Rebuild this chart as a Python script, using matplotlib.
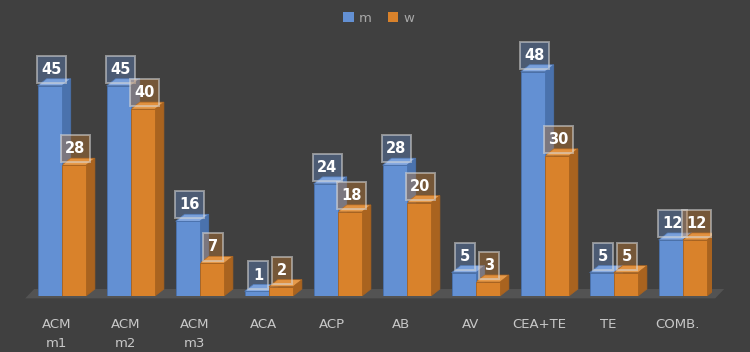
import numpy as np
import matplotlib.pyplot as plt
from matplotlib.patches import Polygon, Rectangle

categories = ['ACM\nm1', 'ACM\nm2', 'ACM\nm3', 'ACA', 'ACP', 'AB', 'AV', 'CEA+TE', 'TE', 'COMB.']
m_vals = [45, 45, 16, 1, 24, 28, 5, 48, 5, 12]
w_vals = [28, 40, 7, 2, 18, 20, 3, 30, 5, 12]

BG = '#404040'
series = [
    # name, values, front, side, top, offset
    ('m', m_vals, '#6390d3', '#4a72ad', '#86a9e0', -0.27),
    ('w', w_vals, '#d9822b', '#a9631f', '#e69a4a', 0.08),
]
width = 0.35
dx, dy = 0.13, 1.5   # fake depth
box_h = 5.8          # label box height in data units


def draw_box3d(ax, x0, h, front, side, top):
    ax.bar(x0, h, width, align='edge', color=front, edgecolor=side, linewidth=0.6, zorder=3)
    ax.add_patch(Polygon([(x0 + width, 0), (x0 + width + dx, dy), (x0 + width + dx, h + dy), (x0 + width, h)],
                         closed=True, facecolor=side, edgecolor=side, lw=0.5, zorder=2))
    ax.add_patch(Polygon([(x0, h), (x0 + dx, h + dy), (x0 + width + dx, h + dy), (x0 + width, h)],
                         closed=True, facecolor=top, edgecolor=side, lw=0.5, zorder=2))


def main():
    fig = plt.figure(figsize=(7.5, 3.52), dpi=100, facecolor=BG)
    ax = fig.add_axes([0.029, 0.159, 0.92, 0.73])
    ax.set_facecolor(BG)
    x = np.arange(len(categories))

    # floor
    ax.add_patch(Polygon([(-0.45, -0.5), (9.55, -0.5), (9.68, 1.5), (-0.32, 1.5)],
                         closed=True, facecolor='#535353', edgecolor='none', zorder=1, clip_on=False))

    for name, vals, front, side, top, off in series:
        for xi, v in zip(x, vals):
            draw_box3d(ax, xi + off, v, front, side, top)
        ax.bar([0], [0], color=front, label=name)

    for name, vals, front, side, top, off in series:
        for xi, v in zip(x, vals):
            xc = xi + off + width / 2 + 0.02
            bw = 0.42 if v >= 10 else 0.29
            y0 = v + 0.6
            ax.add_patch(Rectangle((xc - bw / 2, y0), bw, box_h, facecolor=front, alpha=0.35,
                                   edgecolor='none', zorder=4))
            ax.add_patch(Rectangle((xc - bw / 2, y0), bw, box_h, facecolor='none',
                                   edgecolor='#d8d8d8', alpha=0.55, lw=1.4, zorder=4))
            ax.text(xc, y0 + box_h / 2, str(v), ha='center', va='center',
                    color='white', fontsize=10.5, fontweight='bold', zorder=5)

    ax.set_xlim(-0.5, 9.5)
    ax.set_ylim(0, 55)
    ax.set_xticks(x)
    ax.set_xticklabels(categories, color='#c8c8c8', fontsize=9.5, linespacing=1.6)
    ax.tick_params(axis='x', length=0, pad=16)
    ax.set_yticks([])
    for s in ax.spines.values():
        s.set_visible(False)

    fig.legend(loc='upper center', bbox_to_anchor=(0.505, 1.0), ncol=2, frameon=False,
               fontsize=9.5, labelcolor='#a8a8a8', handlelength=0.8, handleheight=0.8,
               handletextpad=0.4, columnspacing=1.2)

    fig.savefig('out.png', dpi=100, facecolor=BG)


if __name__ == '__main__':
    main()
